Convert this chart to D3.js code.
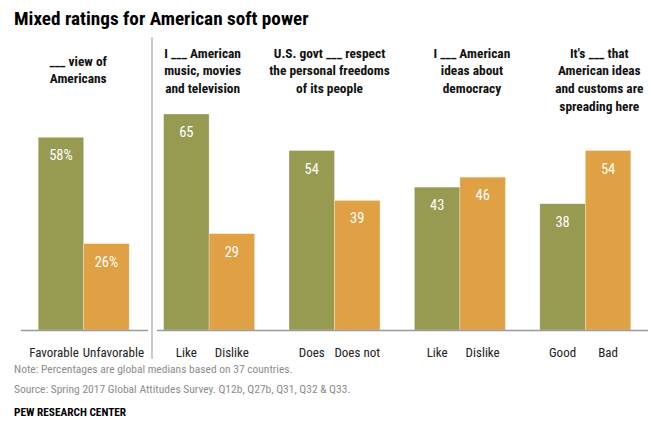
<!DOCTYPE html>
<html>
<head>
<meta charset="utf-8">
<script src="https://cdn.jsdelivr.net/npm/d3@7"></script>
<style>
  body { margin: 0; background: #fff; }
  svg text { font-family: "Roboto Condensed", "DejaVu Sans Condensed", "Liberation Sans Narrow", "Arial Narrow", Roboto, sans-serif; font-stretch: condensed; }
</style>
</head>
<body>
<svg id="chart" width="651" height="428"></svg>
<script>
// Questions (one group of two bars per question)
const groups = ["view", "culture", "freedoms", "democracy", "customs"];
const headers = [
  ["___ view of", "Americans"],
  ["I ___ American", "music, movies", "and television"],
  ["U.S. govt ___ respect", "the personal freedoms", "of its people"],
  ["I ___ American", "ideas about", "democracy"],
  ["It's ___ that", "American ideas", "and customs are", "spreading here"]
];
const positiveLabels = ["Favorable", "Like", "Does", "Like", "Good"];
const negativeLabels = ["Unfavorable", "Dislike", "Does not", "Dislike", "Bad"];
const positiveValues = [58, 65, 54, 43, 38];
const negativeValues = [26, 29, 39, 46, 54];
const valueSuffix = ["%", "", "", "", ""];

const title = "Mixed ratings for American soft power";
const note = "Note: Percentages are global medians based on 37 countries.";
const source = "Source: Spring 2017 Global Attitudes Survey. Q12b, Q27b, Q31, Q32 & Q33.";
const credit = "PEW RESEARCH CENTER";

const green = "#979b51", orange = "#e0a044";

const svg = d3.select("#chart");

const baseY = 330;
const x = d3.scaleBand().domain(groups).range([21, 648]).padding(0);
const bw = x.bandwidth();
const pairW = 91;
const xs = d3.scaleBand().domain(["pos", "neg"]).range([(bw - pairW) / 2, (bw + pairW) / 2]);
const y = d3.scaleLinear().domain([0, 65]).range([baseY, 114]);

// title
svg.append("text").attr("x", 14).attr("y", 25)
  .attr("font-size", 19.2).attr("font-weight", "bold").attr("fill", "#000")
  .text(title);

// column headers
const headerCenterShift = [-5.5, -6.5, -5, 12, 14];
const headerTop = [65.5, 57.5, 57.5, 57.5, 57.5];
groups.forEach((g, i) => {
  const t = svg.append("text")
    .attr("text-anchor", "middle").attr("font-size", 13.4).attr("font-weight", "bold").attr("fill", "#111");
  headers[i].forEach((line, j) => {
    t.append("tspan").attr("x", x(g) + bw / 2 + headerCenterShift[i])
      .attr("y", headerTop[i] + j * 17.8).text(line);
  });
});

// bars
const rows = groups.map((g, i) => ({
  g, i,
  bars: [
    { key: "pos", v: positiveValues[i], label: positiveLabels[i], color: green },
    { key: "neg", v: negativeValues[i], label: negativeLabels[i], color: orange }
  ]
}));

const gg = svg.selectAll("g.grp").data(rows).join("g")
  .attr("class", "grp")
  .attr("transform", d => `translate(${x(d.g)},0)`);

gg.selectAll("rect").data(d => d.bars).join("rect")
  .attr("x", b => xs(b.key))
  .attr("width", xs.bandwidth())
  .attr("y", b => y(b.v))
  .attr("height", b => baseY - y(b.v))
  .attr("fill", b => b.color)
  .attr("stroke", "rgba(255,255,255,0.5)").attr("stroke-width", 0.6);

gg.each(function(d) {
  d3.select(this).selectAll("text.val").data(d.bars).join("text")
    .attr("class", "val")
    .attr("x", b => xs(b.key) + xs.bandwidth() / 2)
    .attr("y", b => y(b.v) + 23)
    .attr("text-anchor", "middle").attr("font-size", 14.5).attr("fill", "#fff")
    .text(b => b.v + valueSuffix[d.i]);
});

// category labels, nudged apart if they would collide
gg.each(function(d) {
  const sel = d3.select(this).selectAll("text.cat").data(d.bars).join("text")
    .attr("class", "cat")
    .attr("x", b => xs(b.key) + xs.bandwidth() / 2)
    .attr("y", 356.5)
    .attr("text-anchor", "middle").attr("font-size", 13).attr("fill", "#222")
    .text(b => b.label);
  const nodes = sel.nodes();
  const w0 = nodes[0].getComputedTextLength(), w1 = nodes[1].getComputedTextLength();
  const c0 = xs("pos") + xs.bandwidth() / 2, c1 = xs("neg") + xs.bandwidth() / 2;
  const gap = 4;
  const overlap = (c0 + w0 / 2 + gap) - (c1 - w1 / 2);
  if (overlap > 0) {
    d3.select(nodes[0]).attr("x", c0 - overlap / 2);
    d3.select(nodes[1]).attr("x", c1 + overlap / 2);
  }
});

// baselines and divider
svg.append("line").attr("x1", 21).attr("x2", 148).attr("y1", baseY + 0.5).attr("y2", baseY + 0.5)
  .attr("stroke", "#9a9a9a").attr("stroke-width", 1.5);
svg.append("line").attr("x1", 157).attr("x2", 648).attr("y1", baseY + 0.5).attr("y2", baseY + 0.5)
  .attr("stroke", "#9a9a9a").attr("stroke-width", 1.5);
svg.append("line").attr("x1", 152).attr("x2", 152).attr("y1", 37).attr("y2", 359)
  .attr("stroke", "#a6a6a6").attr("stroke-width", 1.2);

// footer
svg.append("text").attr("x", 14).attr("y", 373).attr("font-size", 11.5).attr("fill", "#8c8c8c").text(note);
svg.append("text").attr("x", 14).attr("y", 392.5).attr("font-size", 11.5).attr("fill", "#8c8c8c").text(source);
svg.append("text").attr("x", 14).attr("y", 415.5).attr("font-size", 11.3).attr("font-weight", "bold").attr("fill", "#000").text(credit);
</script>
</body>
</html>
